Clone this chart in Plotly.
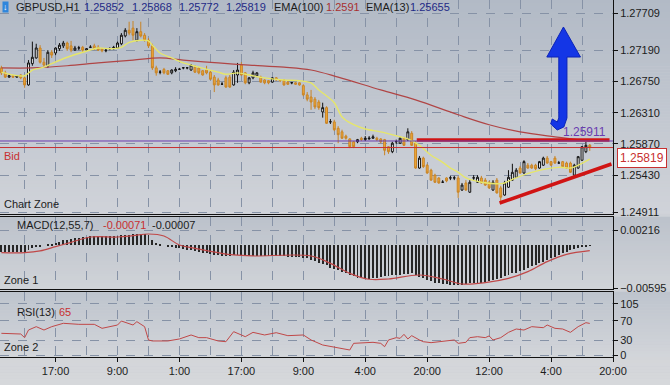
import plotly.graph_objects as go
from plotly.subplots import make_subplots

# ---------------- data ----------------
symbol = "GBPUSD,H1"
bar_idx = list(range(153))
open_ = [1.2694,1.2687,1.2681,1.2683,1.2681,1.2684,1.2680,1.2670,1.2700,1.2708,
 1.2722,1.2702,1.2697,1.2716,1.2715,1.2721,1.2725,1.2729,1.2725,1.2719,
 1.2722,1.2723,1.2719,1.2723,1.2725,1.2723,1.2721,1.2718,1.2721,1.2721,
 1.2722,1.2728,1.2739,1.2747,1.2750,1.2733,1.2745,1.2740,1.2733,1.2725,
 1.2694,1.2688,1.2692,1.2690,1.2687,1.2690,1.2692,1.2694,1.2694,1.2691,
 1.2695,1.2694,1.2690,1.2691,1.2688,1.2681,1.2677,1.2671,1.2680,1.2681,
 1.2670,1.2684,1.2698,1.2687,1.2673,1.2680,1.2683,1.2681,1.2677,1.2676,
 1.2674,1.2680,1.2677,1.2677,1.2674,1.2673,1.2673,1.2673,1.2669,1.2656,
 1.2653,1.2650,1.2646,1.2632,1.2638,1.2618,1.2618,1.2609,1.2604,1.2598,
 1.2594,1.2590,1.2590,1.2595,1.2593,1.2594,1.2595,1.2595,1.2594,1.2593,
 1.2583,1.2576,1.2590,1.2588,1.2595,1.2593,1.2602,1.2588,1.2553,1.2567,
 1.2557,1.2550,1.2543,1.2539,1.2533,1.2539,1.2539,1.2539,1.2539,1.2522,
 1.2532,1.2519,1.2539,1.2533,1.2539,1.2536,1.2533,1.2522,1.2536,1.2525,
 1.2515,1.2526,1.2536,1.2540,1.2553,1.2546,1.2557,1.2557,1.2557,1.2553,
 1.2557,1.2567,1.2562,1.2567,1.2560,1.2562,1.2560,1.2560,1.2543,1.2553,
 1.2564,1.2576,1.25852]
close = [1.2687,1.2681,1.2683,1.2681,1.2683,1.2680,1.2670,1.2701,1.2709,1.2722,
 1.2702,1.2698,1.2716,1.2712,1.2722,1.2726,1.2729,1.2721,1.2719,1.2722,
 1.27222,1.2719,1.2721,1.27232,1.2721,1.2719,1.2718,1.2719,1.27212,1.2723,
 1.2729,1.2740,1.2747,1.2743,1.2740,1.2745,1.2739,1.2733,1.2725,1.2694,
 1.2687,1.26882,1.2687,1.2685,1.2691,1.2692,1.26922,1.26942,1.26942,1.2698,
 1.2688,1.2687,1.2684,1.2687,1.2678,1.2670,1.2670,1.26712,1.2667,1.2667,
 1.2688,1.2691,1.2684,1.2673,1.2680,1.2687,1.2687,1.2674,1.2673,1.2673,
 1.2680,1.2677,1.2676,1.2670,1.2671,1.26732,1.2671,1.2670,1.2656,1.2650,
 1.2646,1.2639,1.2638,1.2638,1.2616,1.26182,1.2607,1.2600,1.2595,1.2595,
 1.2583,1.2583,1.2593,1.2593,1.2595,1.2595,1.2597,1.2593,1.2590,1.2578,
 1.2576,1.2588,1.25902,1.2595,1.2585,1.2604,1.2585,1.2553,1.2567,1.2555,
 1.2546,1.2536,1.2533,1.2532,1.25332,1.2535,1.25392,1.25392,1.2519,1.2529,
 1.2522,1.2533,1.25392,1.2540,1.2532,1.2529,1.2525,1.2533,1.2518,1.2512,
 1.2532,1.2540,1.2547,1.2550,1.2546,1.2562,1.2553,1.2553,1.2552,1.2562,
 1.2567,1.2560,1.2557,1.2560,1.25602,1.2555,1.2553,1.2547,1.2557,1.2569,
 1.2583,1.2585,1.25819]
high = [1.2697,1.2690,1.2685,1.2684,1.2684,1.2685,1.2681,1.2705,1.2731,1.2728,
 1.2726,1.2708,1.2719,1.2719,1.2723,1.2729,1.2732,1.2731,1.2732,1.2725,
 1.2725,1.2725,1.2722,1.2726,1.2728,1.2726,1.2722,1.2721,1.2723,1.2725,
 1.2731,1.2743,1.2750,1.2759,1.2760,1.2750,1.2759,1.2743,1.2736,1.2728,
 1.2697,1.2691,1.2694,1.2691,1.2692,1.2695,1.2694,1.2695,1.2695,1.2699,
 1.2698,1.2695,1.2691,1.2697,1.2691,1.2684,1.2680,1.2674,1.2683,1.2684,
 1.2691,1.2701,1.2702,1.2688,1.2681,1.2690,1.2688,1.2683,1.2678,1.2677,
 1.2681,1.2681,1.2678,1.2678,1.2676,1.2674,1.2674,1.2674,1.2671,1.2660,
 1.2663,1.2653,1.2649,1.2645,1.2640,1.2622,1.2621,1.2612,1.2607,1.2600,
 1.2595,1.2591,1.2594,1.2597,1.2598,1.2598,1.2600,1.2597,1.2595,1.2594,
 1.2584,1.2590,1.2593,1.2597,1.2597,1.2609,1.2605,1.2591,1.2570,1.2569,
 1.2559,1.2552,1.2545,1.2540,1.2536,1.2540,1.2542,1.2542,1.2542,1.2532,
 1.2536,1.2536,1.2543,1.2543,1.2542,1.2539,1.2535,1.2536,1.2539,1.2528,
 1.2535,1.2550,1.2559,1.2553,1.2556,1.2564,1.2560,1.2559,1.2559,1.2563,
 1.2569,1.2570,1.2563,1.2570,1.2563,1.2563,1.2562,1.2562,1.2559,1.2570,
 1.2584,1.2590,1.25868]
low = [1.2684,1.2680,1.2680,1.2680,1.2680,1.2678,1.2666,1.2669,1.2697,1.2707,
 1.2700,1.2695,1.2694,1.2708,1.2712,1.2718,1.2722,1.2718,1.2716,1.2718,
 1.2719,1.2716,1.2718,1.2722,1.2719,1.2718,1.2716,1.2716,1.2719,1.2720,
 1.2721,1.2726,1.2737,1.2740,1.2733,1.2731,1.2737,1.2731,1.2722,1.2691,
 1.2683,1.2685,1.2685,1.2684,1.2685,1.2688,1.2691,1.2692,1.2692,1.2690,
 1.2687,1.2685,1.2683,1.2685,1.2677,1.2660,1.2669,1.2670,1.2666,1.2666,
 1.2669,1.2673,1.2683,1.2671,1.2671,1.2678,1.2681,1.2673,1.2671,1.2671,
 1.2673,1.2676,1.2674,1.2669,1.2670,1.2671,1.2670,1.2669,1.2654,1.2647,
 1.2635,1.2636,1.2635,1.2624,1.2615,1.2615,1.2605,1.2588,1.2594,1.2593,
 1.2581,1.2581,1.2588,1.2591,1.2591,1.2593,1.2594,1.2591,1.2588,1.2571,
 1.2573,1.2574,1.2587,1.2587,1.2584,1.2591,1.2584,1.2552,1.2552,1.2553,
 1.2545,1.2535,1.2532,1.2531,1.2532,1.2533,1.2536,1.2536,1.2511,1.2521,
 1.2521,1.2518,1.2536,1.2532,1.2531,1.2528,1.2524,1.2521,1.2517,1.2504,
 1.2514,1.2525,1.2535,1.2539,1.2545,1.2545,1.2552,1.2552,1.2550,1.2552,
 1.2556,1.2559,1.2556,1.2559,1.2559,1.2553,1.2552,1.2546,1.2540,1.2552,
 1.2563,1.2574,1.25772]

ema13_idx = [0,3,6,8,11,13,17,21,25,28,31,33,36,38,39,41,44,47,51,56,58,61,64,68,73,
             77,80,82,86,88,91,94,98,103,105,108,111,114,116,118,120,124,129,130,132,
             137,144,147,149,152]
ema13_val = [1.2688,1.2684,1.2683,1.2691,1.2695,1.2700,1.2709,1.2716,1.2722,1.2721,
             1.2723,1.2730,1.2733,1.2732,1.2726,1.2715,1.2708,1.2701,1.2695,1.2688,
             1.2685,1.2687,1.2684,1.2680,1.2677,1.2676,1.2673,1.2663,1.2645,1.2625,
             1.2614,1.2608,1.2604,1.2597,1.2594,1.2585,1.2571,1.2561,1.2553,1.2547,
             1.2539,1.2533,1.2531,1.2532,1.2537,1.2547,1.2554,1.2553,1.2557,1.25655]
ema100_idx = [0,8,17,25,34,41,47,56,64,73,80,87,98,107,118,126,134,143,152]
ema100_val = [1.2694,1.2694,1.2697,1.2701,1.2705,1.2708,1.2705,1.2701,1.2698,1.2695,
              1.2691,1.2681,1.2663,1.2649,1.2628,1.2614,1.2604,1.2597,1.2591]

macd_hist = [-0.0009,-0.0009,-0.0009,-0.0009,-0.0009,-0.00085,-0.0009,-0.0006,-0.0004,
 -0.0002,-0.0001,0.0000,0.0001,0.0002,
 0.0004,0.0005,0.0007,0.0008,0.0009,0.0010,0.0011,
 0.0012,0.0012,0.0013,0.0013,0.0013,0.0013,0.0013,0.0013,0.0013,0.0013,0.0014,0.0014,
 0.0015,0.0016,0.0016,0.0016,0.0016,0.0015,
 0.0008,0.0004,0.0002,0.0000,-0.0001,-0.0002,
 -0.0003,-0.0004,-0.0005,-0.0006,-0.0007,-0.0008,-0.0009,-0.0010,-0.0011,-0.0012,
 -0.0013,-0.0014,-0.0015,-0.0015,-0.0015,-0.0014,
 -0.0013,-0.0013,-0.0014,-0.0015,-0.0015,-0.0015,-0.0015,-0.0015,-0.0015,-0.0015,
 -0.0015,-0.0015,-0.0015,-0.0016,-0.0016,-0.0016,-0.0016,-0.0017,-0.0018,
 -0.0020,-0.0022,-0.0024,-0.0026,-0.0028,-0.0031,-0.0033,-0.0035,-0.0037,-0.0039,
 -0.0041,-0.0043,-0.0045,-0.0046,-0.0047,-0.0047,
 -0.0046,-0.0045,-0.0044,-0.0043,-0.0043,-0.0042,-0.0041,-0.0041,-0.0040,-0.0040,
 -0.0039,-0.0042,-0.0044,
 -0.0046,-0.0048,-0.0050,-0.0052,-0.0053,-0.0054,-0.0054,-0.0055,-0.0055,-0.0055,
 -0.0055,-0.0054,
 -0.0053,-0.0053,-0.0052,-0.0052,-0.0051,-0.0050,-0.0048,-0.0047,-0.0045,-0.0043,
 -0.0041,-0.0039,-0.0038,-0.0036,-0.0034,-0.0032,-0.0029,-0.0027,-0.0025,-0.0023,
 -0.0020,-0.0018,-0.0016,-0.0013,-0.0011,-0.0009,-0.0007,-0.0005,-0.0003,-0.0002,
 -0.0001,-0.00007]
signal_idx = [0,6,10,14,18,23,30,34,38,42,46,50,56,60,65,80,85,90,95,100,108,114,119,
              125,131,136,141,146,152]
signal_val = [-0.00101,-0.00101,-0.00077,-0.00017,0.00044,0.00118,0.00118,0.00137,0.00160,
              0.00132,0.00006,-0.00040,-0.00101,-0.00133,-0.00147,-0.00147,-0.00250,
              -0.00390,-0.00473,-0.00469,-0.00413,-0.00469,-0.00539,-0.00520,-0.00460,
              -0.00366,-0.00226,-0.00124,-0.00071]

rsi_idx = [0,3,5,6,7,9,11,13,16,20,24,26,28,30,31,33,34,35,37,38,39,43,46,49,51,53,56,58,
           60,62,63,65,68,71,74,78,80,83,86,88,90,91,94,96,98,99,100,102,103,104,105,106,
           108,109,111,114,117,118,120,121,123,125,126,127,129,131,133,135,137,140,141,
           143,145,147,149,151,152]
rsi_val = [44.6,43.9,43.2,35.7,51.4,58.3,51.4,58.3,65.2,63.1,63.1,54.9,58.3,61.7,69.9,
           65.2,61.7,68.6,58.3,30.9,28.9,28.9,33.0,41.2,35.7,35.7,28.9,27.4,48.0,41.2,
           37.7,46.6,41.2,45.9,39.8,41.2,30.9,20.6,15.8,12.3,10.3,24.0,26.1,26.1,24.0,
           17.1,30.9,35.7,34.3,42.5,33.0,39.8,30.9,27.4,25.4,28.9,30.9,24.0,26.1,35.7,
           37.7,35.7,39.2,30.9,35.7,46.6,53.5,51.4,58.3,56.2,61.7,54.9,53.5,46.6,58.3,
           66.5,65.0]

price_ticks = [1.24911,1.25430,1.25870,1.26310,1.26750,1.27190,1.27709]
macd_ticks = [-0.00595,0.00216]
rsi_ticks = [0,30,70,105]
tick_idx = [14,30,46,62,78,94,110,126,142,158]
tick_text = ["17:00","9:00","1:00","17:00","9:00","4:00","20:00","12:00","4:00","20:00"]
minor_idx = [6,22,38,54,70,86,102,118,134,150]

hline_price = 1.25911
bid_price = close[-1]
trend_h_idx = [107.3,157.1]
trend_h_val = [1.25925,1.25925]
trend_d_idx = [128.7,157.6]
trend_d_val = [1.25038,1.25587]
arrow_idx = [145.2,149.6,146.1,146.1,145.3,143.6,141.9,142.3,143.6,144.0,144.0,140.9,145.2]
arrow_val = [1.27516,1.27093,1.27093,1.26235,1.26108,1.26066,1.26150,1.26221,1.26178,
             1.26235,1.27093,1.27093,1.27516]

# ---------------- figure ----------------
W, H = 670, 385
MR, MB = 57, 28
PW, PH = W - MR, H - MB
FONT = "Liberation Sans, Arial, sans-serif"
DARK = "#1c1c1c"

def pyp(px):
    return (PH - px) / PH

def pxp(px):
    return px / PW

fig = make_subplots(rows=3, cols=1, shared_xaxes=True, vertical_spacing=0.01)

fig.add_trace(go.Candlestick(
    x=bar_idx, open=open_, high=high, low=low, close=close,
    increasing=dict(line=dict(color="#111111", width=1), fillcolor="#ffffff"),
    decreasing=dict(line=dict(color="#c88426", width=1), fillcolor="#f0a838"),
    whiskerwidth=0, showlegend=False, hoverinfo="skip"), row=1, col=1)

fig.add_trace(go.Scatter(x=ema100_idx, y=ema100_val, mode="lines",
    line=dict(color="#b04545", width=1.2, shape="spline"), showlegend=False,
    hoverinfo="skip"), row=1, col=1)
fig.add_trace(go.Scatter(x=ema13_idx, y=ema13_val, mode="lines",
    line=dict(color="#e6e66a", width=1.4, shape="spline", smoothing=0.8),
    showlegend=False, hoverinfo="skip"), row=1, col=1)

fig.add_trace(go.Scatter(x=trend_h_idx, y=trend_h_val, mode="lines",
    line=dict(color="#d01414", width=3.5), showlegend=False, hoverinfo="skip"),
    row=1, col=1)
fig.add_trace(go.Scatter(x=trend_d_idx, y=trend_d_val, mode="lines",
    line=dict(color="#d01414", width=3.5), showlegend=False, hoverinfo="skip"),
    row=1, col=1)

fig.add_trace(go.Scatter(x=arrow_idx, y=arrow_val, mode="lines", fill="toself",
    fillcolor="#1436e6", line=dict(color="#0b23b8", width=1), showlegend=False,
    hoverinfo="skip"), row=1, col=1)

fig.add_trace(go.Bar(x=bar_idx, y=macd_hist, width=0.24,
    marker=dict(color="#262626", line=dict(width=0)), showlegend=False,
    hoverinfo="skip"), row=2, col=1)
fig.add_trace(go.Scatter(x=signal_idx, y=signal_val, mode="lines",
    line=dict(color="#c04848", width=1.2, shape="spline"), showlegend=False,
    hoverinfo="skip"), row=2, col=1)

fig.add_trace(go.Scatter(x=rsi_idx, y=rsi_val, mode="lines",
    line=dict(color="#c04848", width=1), showlegend=False, hoverinfo="skip"),
    row=3, col=1)

# background gradient bands
def lerp(a, b, t):
    return "rgb(%d,%d,%d)" % tuple(round(a[k] + (b[k] - a[k]) * t) for k in range(3))

zones = [(0, 214, (178, 186, 198), (208, 211, 217)),
         (214, 217, (205, 208, 214), (205, 208, 214)),
         (217, 289, (188, 194, 203), (208, 211, 216)),
         (289, 292, (205, 208, 214), (205, 208, 214)),
         (292, 357, (190, 196, 205), (210, 213, 218)),
         (357, 385, (211, 213, 217), (214, 216, 219))]
shapes = []
for top, bot, ca, cb in zones:
    n = max(1, int((bot - top) / 3))
    for k in range(n):
        y0 = top + (bot - top) * k / n
        y1 = top + (bot - top) * (k + 1) / n
        shapes.append(dict(type="rect", xref="paper", yref="paper", x0=0, x1=W / PW,
                           y0=pyp(y1), y1=pyp(y0) + 0.0005, line=dict(width=0),
                           fillcolor=lerp(ca, cb, (k + 0.5) / n), layer="below"))

shapes.append(dict(type="line", xref="paper", yref="y", x0=0, x1=1,
                   y0=hline_price, y1=hline_price, line=dict(color="#6a3cb0", width=1)))
shapes.append(dict(type="line", xref="paper", yref="y", x0=0, x1=1,
                   y0=bid_price, y1=bid_price, line=dict(color="#c83030", width=1)))

ann = []
def txt(x, y, s, color=DARK, size=11, xanchor="left"):
    ann.append(dict(x=pxp(x), y=pyp(y), xref="paper", yref="paper", text=s,
                    showarrow=False, xanchor=xanchor, yanchor="middle",
                    font=dict(family=FONT, size=size, color=color)))

BLUE = "#1f2a86"
ann.append(dict(x=pxp(2), y=pyp(7), xref="paper", yref="paper", text="\u2193",
                showarrow=False, xanchor="left", yanchor="middle", bgcolor="#2f86dc",
                font=dict(family=FONT, size=9, color="white"), borderpad=0))
txt(14, 7, symbol)
txt(82, 7, "%.5f" % open_[-1], BLUE)
txt(130, 7, "%.5f" % high[-1], BLUE)
txt(177, 7, "%.5f" % low[-1], BLUE)
txt(224, 7, "%.5f" % close[-1], BLUE)
txt(272, 7, "EMA(100)")
txt(324, 7, "%.4f" % ema100_val[-1], "#a83030")
txt(364, 7, "EMA(13)")
txt(408, 7, "%.5f" % ema13_val[-1], BLUE)
txt(2, 204, "Chart Zone")
txt(2, 156, "Bid", "#c83030")
txt(608, 132, "%.5f" % hline_price, "#6a3cb0", 12, "right")
txt(15, 225, "MACD(12,55,7)")
txt(101, 225, "%.5f" % signal_val[-1], "#c83030")
txt(150, 225, "%.5f" % macd_hist[-1])
txt(2, 280, "Zone 1")
txt(15, 312, "RSI(13)")
txt(57, 312, "%d" % round(rsi_val[-1]), "#c83030")
txt(2, 347, "Zone 2")
ann.append(dict(x=1.0, y=bid_price, xref="paper", yref="y", text="%.5f" % bid_price,
                showarrow=False, xanchor="left", yanchor="top", xshift=4,
                bgcolor="#ffffff", bordercolor="#c83030", borderwidth=1, borderpad=2,
                font=dict(family=FONT, size=12, color="#c83030")))

GRID = "#8692a6"
xbase = dict(range=[-0.36, 158.0], tickmode="array", tickvals=tick_idx,
             ticktext=tick_text, showgrid=True, gridcolor=GRID, griddash="dash",
             gridwidth=1, showline=True, mirror=True, linecolor="#111111",
             linewidth=1, zeroline=False,
             minor=dict(tickmode="array", tickvals=minor_idx, showgrid=True,
                        gridcolor=GRID, griddash="dash", gridwidth=1))
ybase = dict(side="right", showgrid=True, gridcolor=GRID, griddash="dash",
             gridwidth=1, showline=True, mirror=True, linecolor="#111111",
             linewidth=1, zeroline=False, ticks="outside", ticklen=4,
             tickcolor="#111111", tickfont=dict(family=FONT, size=11, color=DARK))

fig.update_layout(
    width=W, height=H, margin=dict(l=0, r=MR, t=0, b=MB),
    paper_bgcolor="#c9cdd3", plot_bgcolor="rgba(0,0,0,0)",
    font=dict(family=FONT, size=11, color=DARK),
    showlegend=False, shapes=shapes, annotations=ann, bargap=0,
    xaxis=dict(xbase, showticklabels=False, ticks="", rangeslider=dict(visible=False)),
    xaxis2=dict(xbase, showticklabels=False, ticks=""),
    xaxis3=dict(xbase, showticklabels=True, ticks="outside", ticklen=4,
                tickcolor="#111111", tickfont=dict(family=FONT, size=11, color=DARK)),
    yaxis=dict(ybase, domain=[pyp(214), 1.0], range=[1.24883, 1.27896],
               tickmode="array", tickvals=price_ticks, tickformat=".5f"),
    yaxis2=dict(ybase, domain=[pyp(289), pyp(217)], range=[-0.00609, 0.00398],
                tickmode="array", tickvals=macd_ticks, tickformat=".5f"),
    yaxis3=dict(ybase, domain=[0.0, pyp(292)], range=[-4.1, 129.6],
                tickmode="array", tickvals=rsi_ticks),
)

fig.write_html("out.html", config={"displayModeBar": False},
               post_script="document.body.style.margin='0px';"
               "document.body.style.overflow='hidden';")
